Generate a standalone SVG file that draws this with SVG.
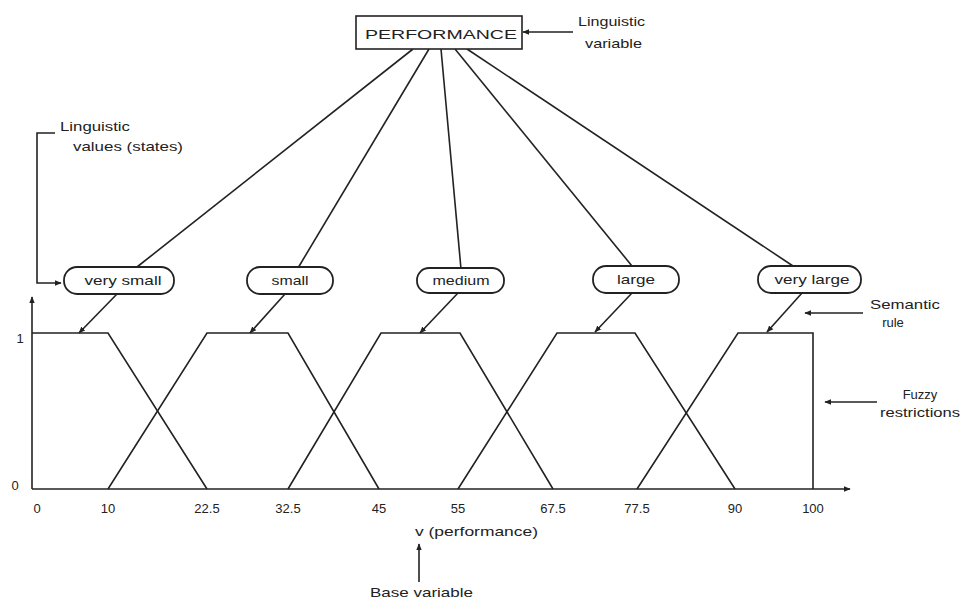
<svg xmlns="http://www.w3.org/2000/svg" width="965" height="604" viewBox="0 0 965 604">
<style>
text{font-family:"Liberation Sans",Arial,sans-serif;fill:#222;font-size:13px}
.ln{fill:none;stroke:#222;stroke-width:1.6}
.pill{fill:#fff;stroke:#222;stroke-width:1.8}
.mid{text-anchor:middle}
</style>
<defs>
<marker id="ah" viewBox="0 0 10 10" refX="9" refY="5" markerWidth="7" markerHeight="7" orient="auto" markerUnits="userSpaceOnUse">
<path d="M0,1 L10,5 L0,9 Z" fill="#222"/>
</marker>
</defs>
<rect width="965" height="604" fill="#fff"/>
<g id="connectors">
<path class="ln" d="M413,49 L137,267"/>
<path class="ln" d="M429,49 L298,268"/>
<path class="ln" d="M441,49 L461,269"/>
<path class="ln" d="M455,49 L632,266"/>
<path class="ln" d="M467,49 L793,266"/>
<path class="ln" d="M117,294 L79,333" marker-end="url(#ah)"/>
<path class="ln" d="M285,294 L250,333" marker-end="url(#ah)"/>
<path class="ln" d="M458,293 L420,333" marker-end="url(#ah)"/>
<path class="ln" d="M632,293 L595,332" marker-end="url(#ah)"/>
<path class="ln" d="M802,293 L767,332" marker-end="url(#ah)"/>
<path class="ln" d="M573,32 L523,32" marker-end="url(#ah)"/>
<path class="ln" d="M55,133 L37,133 L37,283 L61,283" marker-end="url(#ah)"/>
<path class="ln" d="M863,313 L805,313" marker-end="url(#ah)"/>
<path class="ln" d="M877,402 L825,402" marker-end="url(#ah)"/>
<path class="ln" d="M419,582 L419,544" marker-end="url(#ah)"/>
</g>
<g id="performance">
<rect x="356" y="16" width="166" height="33" fill="#fff" stroke="#222" stroke-width="1.6"/>
<text x="365" y="39" font-size="15" textLength="152" lengthAdjust="spacingAndGlyphs">PERFORMANCE</text>
</g>
<g id="very-small">
<rect class="pill" x="64" y="267" width="110" height="27" rx="13"/>
<text class="mid" x="123" y="285" textLength="77" lengthAdjust="spacingAndGlyphs">very small</text>
</g>
<g id="small">
<rect class="pill" x="247" y="267" width="86" height="27" rx="13"/>
<text class="mid" x="290" y="285" textLength="37" lengthAdjust="spacingAndGlyphs">small</text>
</g>
<g id="medium">
<rect class="pill" x="417" y="268" width="87" height="25" rx="12"/>
<text class="mid" x="461" y="285" textLength="57" lengthAdjust="spacingAndGlyphs">medium</text>
</g>
<g id="large">
<rect class="pill" x="593" y="266" width="86" height="27" rx="13"/>
<text class="mid" x="636" y="284" textLength="38" lengthAdjust="spacingAndGlyphs">large</text>
</g>
<g id="very-large">
<rect class="pill" x="758" y="266" width="103" height="27" rx="13"/>
<text class="mid" x="812" y="284" textLength="75" lengthAdjust="spacingAndGlyphs">very large</text>
</g>
<g id="chart">
<path class="ln" d="M32,489 L32,297" marker-end="url(#ah)"/>
<path class="ln" d="M32,489 L850,489" marker-end="url(#ah)"/>
<path class="ln" d="M32,333 L108,333 L207,489"/>
<path class="ln" d="M108,489 L207,333 L288,333 L379,489"/>
<path class="ln" d="M288,489 L381,333 L460,333 L553,489"/>
<path class="ln" d="M458,489 L557,333 L635,333 L735,489"/>
<path class="ln" d="M637,489 L738,333 L813,333 L813,489"/>
<text class="mid" x="20" y="343">1</text>
<text class="mid" x="15" y="490">0</text>
<text class="mid" x="37" y="513">0</text>
<text class="mid" x="108" y="513">10</text>
<text class="mid" x="207" y="513">22.5</text>
<text class="mid" x="288" y="513">32.5</text>
<text class="mid" x="379" y="513">45</text>
<text class="mid" x="458" y="513">55</text>
<text class="mid" x="553" y="513">67.5</text>
<text class="mid" x="637" y="513">77.5</text>
<text class="mid" x="735" y="513">90</text>
<text class="mid" x="813" y="513">100</text>
</g>
<g id="labels">
<text x="578" y="26" textLength="67" lengthAdjust="spacingAndGlyphs">Linguistic</text>
<text x="585" y="48" textLength="57" lengthAdjust="spacingAndGlyphs">variable</text>
<text x="60" y="131" textLength="70" lengthAdjust="spacingAndGlyphs">Linguistic</text>
<text x="73" y="151" textLength="110" lengthAdjust="spacingAndGlyphs">values (states)</text>
<text x="870" y="309" textLength="70" lengthAdjust="spacingAndGlyphs">Semantic</text>
<text class="mid" x="893" y="327">rule</text>
<text class="mid" x="920" y="399">Fuzzy</text>
<text x="880" y="417" textLength="80" lengthAdjust="spacingAndGlyphs">restrictions</text>
<text x="415" y="536" textLength="123" lengthAdjust="spacingAndGlyphs">v (performance)</text>
<text x="370" y="597" textLength="103" lengthAdjust="spacingAndGlyphs">Base variable</text>
</g>
</svg>
